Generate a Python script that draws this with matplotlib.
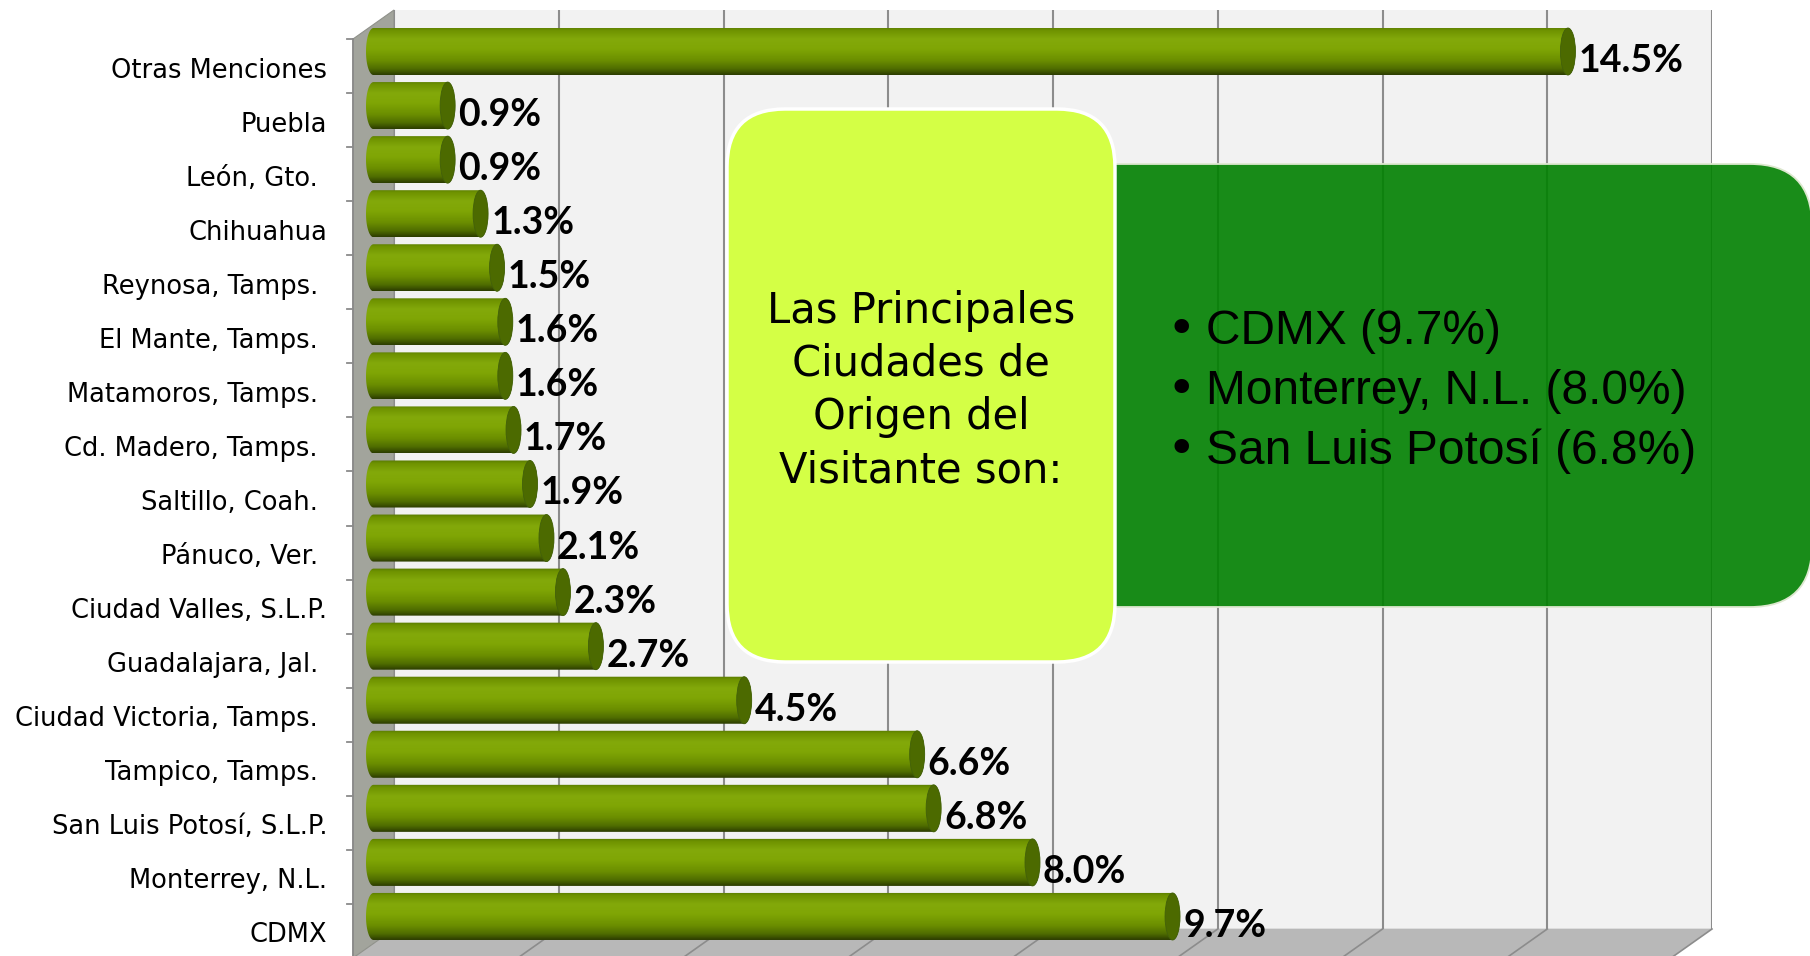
import matplotlib
matplotlib.use("Agg")
import matplotlib.pyplot as plt
import numpy as np
from matplotlib import transforms as mtrans
from matplotlib import font_manager
from matplotlib.patches import Polygon, PathPatch, Ellipse, FancyBboxPatch, Rectangle
from matplotlib.lines import Line2D
from matplotlib.path import Path
from matplotlib.colors import LinearSegmentedColormap

# ---- data (bottom to top) ----
categories = [
    "CDMX", "Monterrey, N.L.", "San Luis Potosí, S.L.P.", "Tampico, Tamps. ",
    "Ciudad Victoria, Tamps. ", "Guadalajara, Jal. ", "Ciudad Valles, S.L.P.",
    "Pánuco, Ver. ", "Saltillo, Coah. ", "Cd. Madero, Tamps. ",
    "Matamoros, Tamps. ", "El Mante, Tamps. ", "Reynosa, Tamps. ",
    "Chihuahua", "León, Gto. ", "Puebla", "Otras Menciones",
]
values = [9.7, 8.0, 6.8, 6.6, 4.5, 2.7, 2.3, 2.1, 1.9, 1.7, 1.6, 1.6, 1.5,
          1.3, 0.9, 0.9, 14.5]
grid_ticks = [0, 2, 4, 6, 8, 10, 12, 14, 16]

title_lines = ["Las Principales", "Ciudades de", "Origen del", "Visitante son:"]
highlights = ["CDMX (9.7%)", "Monterrey, N.L. (8.0%)", "San Luis Potosí (6.8%)"]

# ---- fonts ----
def have_font(name):
    try:
        font_manager.findfont(font_manager.FontProperties(family=name),
                              fallback_to_default=False)
        return True
    except Exception:
        return False

narrow = "Liberation Sans Narrow" if have_font("Liberation Sans Narrow") else "Liberation Sans"
label_font = "Lato" if have_font("Lato") else "DejaVu Sans"

# ---- figure / axes ----
W, H = 1810, 956
fig = plt.figure(figsize=(W / 100, H / 100), dpi=100)
fig.patch.set_facecolor("white")
ax = fig.add_axes([394 / W, 1 - 929 / H, 1318 / W, 919 / H])
ax.set_xlim(0, 16)
ax.set_ylim(-0.5, len(categories) - 0.5)
ax.set_autoscale_on(False)
ax.axis("off")

# depth of the 3-D box (inches): front plane is shifted left and down
DX, DY = -0.41, -0.29


def shift(d, ex=0.0, ey=0.0):
    return ax.transData + mtrans.ScaledTranslation(d * DX + ex, d * DY + ey,
                                                   fig.dpi_scale_trans)


def disp(x, y, d):
    return shift(d).transform((x, y))


ident = mtrans.IdentityTransform()
ytop = len(categories) - 0.5
ybot = -0.5

# back wall
ax.add_patch(Rectangle((0, ybot), 16, ytop - ybot, fc="#f2f2f2", ec="none",
                       zorder=0))
ax.plot([0, 16], [ybot, ybot], color="#d9d9d9", lw=1.2, zorder=0.2)

# floor
floor = [disp(0, ybot, 0), disp(16, ybot, 0), disp(16, ybot, 1), disp(0, ybot, 1)]
ax.add_patch(Polygon(floor, closed=True, transform=ident, fc="#b8b8b8",
                     ec="none", zorder=0.5, clip_on=False))

# left wall
wall = [disp(0, ybot, 0), disp(0, ytop, 0), disp(0, ytop, 1), disp(0, ybot, 1)]
ax.add_patch(Polygon(wall, closed=True, transform=ident, fc="#a2a49c",
                     ec="#8f918a", lw=0.8, zorder=0.6, clip_on=False))

# gridlines on the back wall and across the floor
for t in grid_ticks:
    ax.plot([t, t], [ybot, ytop], color="#8c8c8c", lw=1.5, zorder=1,
            solid_capstyle="butt")
    if t > 0:
        a, b = disp(t, ybot, 0), disp(t, ybot, 1)
        ax.add_line(Line2D([a[0], b[0]], [a[1], b[1]], transform=ident,
                           color="#8c8c8c", lw=1.2, zorder=0.7, clip_on=False))

# front edge of the category axis with tick marks
a, b = disp(0, ybot, 1), disp(0, ytop, 1)
ax.add_line(Line2D([a[0], b[0]], [a[1], b[1]], transform=ident,
                   color="#8a8a8a", lw=1.3, zorder=0.8, clip_on=False))
for k in range(len(categories) + 1):
    p = disp(0, k - 0.5, 1)
    ax.add_line(Line2D([p[0] - 6, p[0]], [p[1], p[1]], transform=ident,
                       color="#8a8a8a", lw=1.3, zorder=0.8, clip_on=False))

# ---- cylinders ----
shade = LinearSegmentedColormap.from_list("cyl", [
    (0.00, "#587a00"), (0.06, "#6e9200"), (0.25, "#83a90a"),
    (0.45, "#80a605"), (0.70, "#6b8e00"), (0.88, "#4e6b00"),
    (1.00, "#2c3d00")])
grad = shade(np.linspace(0, 1, 120))[:, None, :3].repeat(2, axis=1)

tr_mid = shift(0.5)
HH = 0.435    # half thickness (category units)
CAP = 0.091   # half width of the end ellipse (value units)
theta = np.linspace(np.pi / 2, -np.pi / 2, 48)

for i, v in enumerate(values):
    right = np.column_stack([v + CAP * np.cos(theta), i + HH * np.sin(theta)])
    left = np.column_stack([-CAP * np.cos(theta), i - HH * np.sin(theta)])
    verts = np.vstack([right, left, right[:1]])
    body = PathPatch(Path(verts, closed=True), transform=tr_mid, fc="none",
                     ec="none", clip_on=False)
    ax.add_patch(body)
    ax.imshow(grad, extent=(-CAP, v + CAP, i - HH, i + HH), aspect="auto",
              interpolation="bilinear", transform=tr_mid, zorder=3,
              clip_box=fig.bbox, clip_path=body)
    ax.add_patch(Ellipse((v, i), 2 * CAP, 2 * HH, transform=tr_mid,
                         fc="#4c6a00", ec="#42600a", lw=0.6, zorder=3.2,
                         clip_on=False))
    ax.text(v, i, f"{v:.1f}%", transform=shift(0, -0.10, -0.35),
            ha="left", va="baseline", fontsize=27, fontweight="bold",
            family=label_font, color="black", zorder=5, clip_on=False)

# category labels
for i, name in enumerate(categories):
    extra = 0.09 if name.endswith(" ") else 0.0
    ax.text(0, i, name.rstrip(), transform=shift(0, -0.67 - extra, -0.405),
            ha="right", va="baseline", fontsize=18.5, family="DejaVu Sans",
            color="black", clip_on=False)

# ---- call-out boxes ----
ov = fig.add_axes([0, 0, 1, 1], zorder=10)
ov.set_xlim(0, W)
ov.set_ylim(H, 0)
ov.axis("off")

ov.add_patch(FancyBboxPatch((1030, 164), 782, 443,
                            boxstyle="round,pad=0,rounding_size=62",
                            fc=(0.0, 0.5, 0.0, 0.9), ec="#dde8cf", lw=1.3,
                            clip_on=False))
ov.add_patch(FancyBboxPatch((727, 109), 388, 553,
                            boxstyle="round,pad=0,rounding_size=58",
                            fc="#d4ff45", ec="white", lw=2.5, clip_on=False))

for j, line in enumerate(title_lines):
    ov.text(921, 323 + 53 * j, line, ha="center", va="baseline", fontsize=30,
            family="DejaVu Sans", color="black")

for j, line in enumerate(highlights):
    y = 344 + 60 * j
    ov.text(1166, y, "\u2022", ha="left", va="baseline", fontsize=36,
            family="DejaVu Sans", color="black")
    ov.text(1206, y, line, ha="left", va="baseline", fontsize=34.5,
            family=narrow, color="black")

fig.savefig("out.png", dpi=100)
